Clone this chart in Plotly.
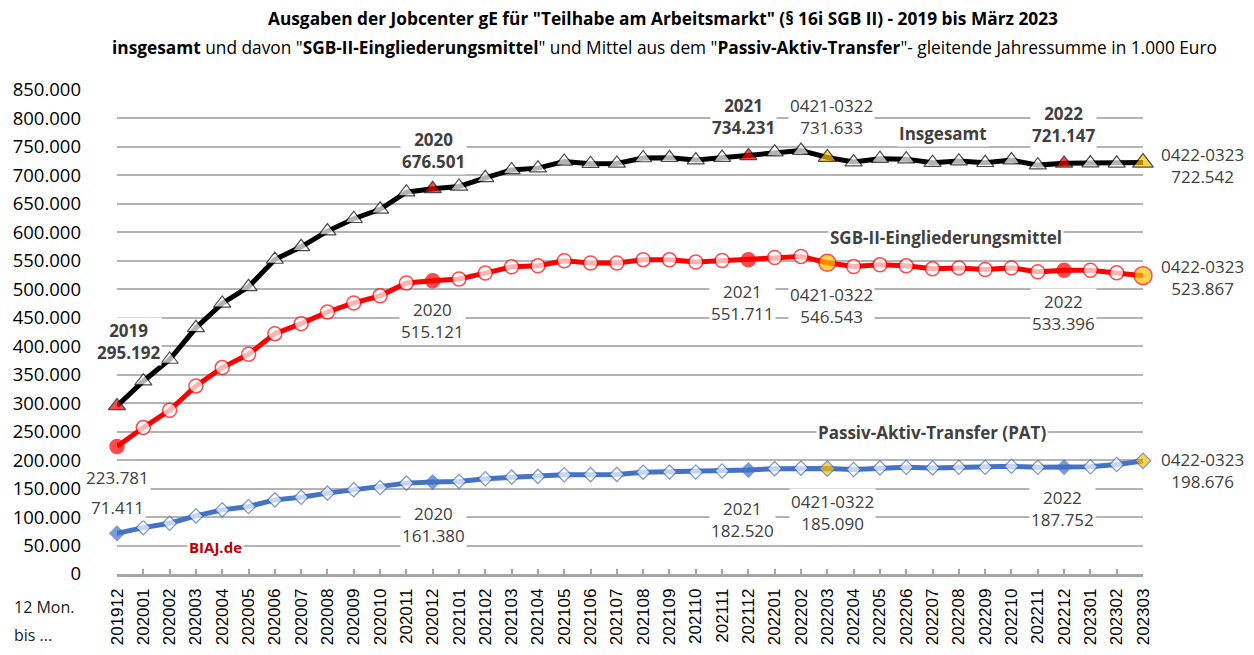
import plotly.graph_objects as go

# ---------------- data (in 1.000 Euro) ----------------
months = ["201912", "202001", "202002", "202003", "202004", "202005", "202006", "202007",
          "202008", "202009", "202010", "202011", "202012", "202101", "202102", "202103",
          "202104", "202105", "202106", "202107", "202108", "202109", "202110", "202111",
          "202112", "202201", "202202", "202203", "202204", "202205", "202206", "202207",
          "202208", "202209", "202210", "202211", "202212", "202301", "202302", "202303"]

insgesamt = [295192, 338600, 376700, 432300, 475100, 504400, 552300, 574600,
             602200, 623900, 640500, 670600, 676501, 680600, 695800, 709700,
             712800, 724500, 720600, 721000, 730600, 731000, 727000, 731400,
             734231, 740800, 743600, 731633, 723500, 729400, 728600, 722300,
             725100, 722200, 726900, 718100, 721147, 721700, 721300, 722542]

sgb = [223781, 257200, 287600, 330300, 362500, 385900, 422100, 439700,
       460200, 476000, 488500, 511000, 515121, 518000, 528500, 539500,
       541400, 550200, 546100, 546100, 552000, 551800, 547800, 550600,
       551711, 555800, 557600, 546543, 540000, 543000, 541200, 536000,
       537600, 534700, 537600, 530600, 533396, 533400, 528900, 523867]

pat = [71411, 81400, 89100, 102000, 112600, 118500, 130200, 134900,
       142000, 147900, 152000, 159600, 161380, 162600, 167300, 170200,
       171400, 174300, 174500, 174900, 178600, 179200, 179200, 180800,
       182520, 185000, 186000, 185090, 183500, 186400, 187400, 186300,
       187500, 187500, 189300, 187500, 187752, 188300, 192400, 198676]

year_end = {"201912", "202012", "202112", "202212"}
window_end = {"202203", "202303"}

y_ticks = list(range(0, 850001, 50000))

# ---------------- styling ----------------
ORANGE = "#FFC000"
BLUE = "#4472C4"
LBL = "#404040"


def marker_props(special_fill, n_small, n_big):
    fills, sizes = [], []
    for m in months:
        if m in window_end:
            fills.append(ORANGE)
            sizes.append(n_big)
        elif m in year_end:
            fills.append(special_fill)
            sizes.append(n_small)
        else:
            fills.append("white")
            sizes.append(n_small)
    return fills, sizes


fig = go.Figure()

f, s = marker_props(BLUE, 11, 12)
fig.add_trace(go.Scatter(
    x=months, y=pat, mode="lines+markers", cliponaxis=False,
    line=dict(color=BLUE, width=5),
    marker=dict(symbol="diamond", size=s, color=f, line=dict(color=BLUE, width=1.3)),
))

f, s = marker_props("#FF0000", 14, 17)
s[-1] = 18
fig.add_trace(go.Scatter(
    x=months, y=sgb, mode="lines+markers", cliponaxis=False,
    line=dict(color="#FF0000", width=5),
    marker=dict(symbol="circle", size=s, color=f, line=dict(color="#FF0000", width=1.5)),
))

f, s = marker_props("#FF0000", 15, 16)
s[-1] = 18
fig.add_trace(go.Scatter(
    x=months, y=insgesamt, mode="lines+markers", cliponaxis=False,
    line=dict(color="black", width=5),
    marker=dict(symbol="triangle-up", size=s, color=f, line=dict(color="black", width=1.2)),
))

# ---------------- geometry (page pixel coordinates) ----------------
BODY = 8                      # default page margin around the figure
W, H = 1246, 639
X0, X1, Y0, Y1 = 117, 1143, 574, 90   # plot area on the page


def fx(xp):
    return (xp - X0) / (X1 - X0)


def fy(yp):
    return (Y0 - yp) / (Y0 - Y1)


labels = [
    ("<b>2019<br>295.192</b>", 128, 341),
    ("223.781", 117, 477),
    ("71.411", 117, 507),
    ("<b>2020<br>676.501</b>", 433, 150),
    ("2020<br>515.121", 432, 320),
    ("2020<br>161.380", 433, 524),
    ("<b>2021<br>734.231</b>", 743, 117),
    ("0421-0322<br>731.633", 831, 117),
    ("<b>Insgesamt</b>", 943, 133),
    ("<b>2022<br>721.147</b>", 1063, 124),
    ("0422-0323<br>722.542", 1202, 165),
    ("<b>SGB-II-Eingliederungsmittel</b>", 946, 237),
    ("2021<br>551.711", 742, 302),
    ("0421-0322<br>546.543", 831, 305),
    ("2022<br>533.396", 1063, 312),
    ("0422-0323<br>523.867", 1202, 277),
    ("<b>Passiv-Aktiv-Transfer (PAT)</b>", 932, 432),
    ("2021<br>182.520", 742, 519),
    ("0421-0322<br>185.090", 832, 512),
    ("2022<br>187.752", 1062, 508),
    ("0422-0323<br>198.676", 1202, 470),
]

annotations = []
for txt, xp, yp in labels:
    annotations.append(dict(
        text=txt, x=fx(xp), y=fy(yp), xref="paper", yref="paper",
        showarrow=False, xanchor="center", yanchor="middle", align="center",
        font=dict(family="Open Sans", size=17, color=LBL),
        bgcolor="white", borderpad=1,
    ))

annotations.append(dict(
    text="<b>BIAJ.de</b>", x=fx(215), y=fy(547), xref="paper", yref="paper",
    showarrow=False, xanchor="center", yanchor="middle",
    font=dict(family="Open Sans", size=15, color="#C00000"), bgcolor="white",
))

for txt, yp in (("12 Mon.", 607), ("bis ...", 635)):
    annotations.append(dict(
        text=txt, x=fx(12), y=fy(yp), xref="paper", yref="paper", showarrow=False,
        xanchor="left", yanchor="middle",
        font=dict(family="Open Sans", size=16, color="#222"),
    ))

annotations.append(dict(
    text='<b>Ausgaben der Jobcenter gE für "Teilhabe am Arbeitsmarkt" (§ 16i SGB II) - 2019 bis März 2023</b>',
    x=fx(663), y=fy(18), xref="paper", yref="paper", showarrow=False,
    xanchor="center", yanchor="middle",
    font=dict(family="Open Sans", size=17.3, color="black"),
))
annotations.append(dict(
    text='<b>insgesamt</b> und davon "<b>SGB-II-Eingliederungsmittel</b>" und Mittel aus dem '
         '"<b>Passiv-Aktiv-Transfer</b>"- gleitende Jahressumme in 1.000 Euro',
    x=fx(664), y=fy(47), xref="paper", yref="paper", showarrow=False,
    xanchor="center", yanchor="middle",
    font=dict(family="Open Sans", size=17.3, color="black"),
))

fig.update_layout(
    width=W, height=H, autosize=False,
    margin=dict(l=X0 - BODY, r=W - (X1 - BODY), t=Y1 - BODY, b=H - (Y0 - BODY), pad=0,
                autoexpand=False),
    plot_bgcolor="white", paper_bgcolor="white",
    showlegend=False,
    separators=",.",
    annotations=annotations,
    font=dict(family="Open Sans", color="black"),
)

fig.update_xaxes(
    type="category", range=[0, len(months) - 1], automargin=False,
    showgrid=False, showline=True, linecolor="#A6A6A6", linewidth=2.5,
    ticks="inside", ticklen=5, tickcolor="#A6A6A6", tickwidth=1.5,
    tickangle=-90, tickfont=dict(family="Liberation Sans", size=17, color="black"),
    ticklabelstandoff=5,
)
fig.update_yaxes(
    range=[0, 850000], tickvals=y_ticks, tickformat=",.0f", automargin=False,
    showgrid=True, gridcolor="#B4B4B4", gridwidth=1.5,
    zeroline=False, showline=False, ticks="",
    tickfont=dict(family="Open Sans", size=18.5, color="black"),
    ticklabelstandoff=35,
)

fig.write_html("out.html")
